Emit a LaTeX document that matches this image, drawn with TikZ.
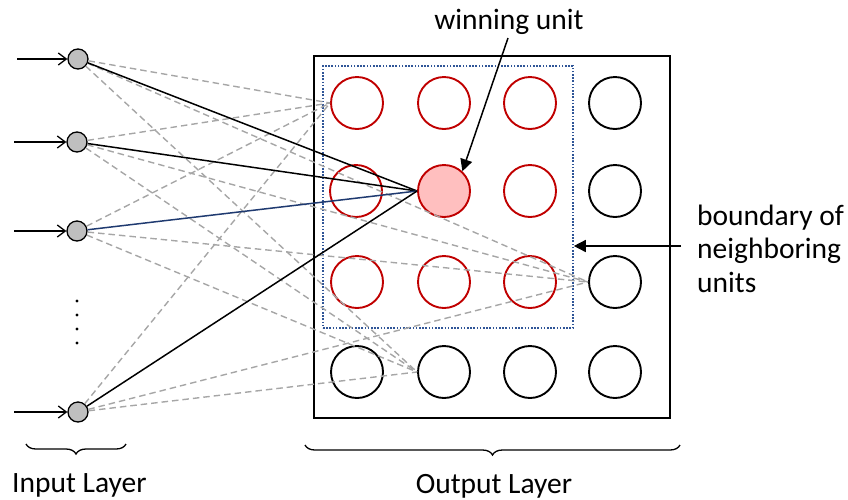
\documentclass[tikz,border=0pt]{standalone}
\usepackage{fontspec}
\setmainfont{Carlito}
\usetikzlibrary{arrows.meta,decorations.pathreplacing}
\definecolor{dred}{HTML}{C00000}
\definecolor{pinkfill}{HTML}{FFBFBF}
\definecolor{dgray}{HTML}{A6A6A6}
\definecolor{navy}{HTML}{1F3A70}
\definecolor{dotblue}{HTML}{2F5597}
\definecolor{nodegray}{HTML}{BFBFBF}
\tikzset{
  inp/.style={circle,draw=black,fill=nodegray,line width=1.3pt,minimum size=20pt,inner sep=0pt},
  ocirc/.style={circle,draw=black,line width=1.9pt,minimum size=52pt,inner sep=0pt},
  rcirc/.style={ocirc,draw=dred},
  wcirc/.style={ocirc,draw=dred,fill=pinkfill},
  dline/.style={draw=dgray,line width=1.4pt,dash pattern=on 6.5pt off 4pt},
  sline/.style={draw=black,line width=1.5pt},
  bline/.style={draw=navy,line width=1.5pt},
  inarrow/.style={draw=black,line width=1.3pt,-{Straight Barb[length=8pt,width=12pt,line width=1.3pt]}},
  callout/.style={draw=black,line width=1.5pt,-{Triangle[length=12pt,width=12pt]}},
  txt/.style={font=\fontsize{29.5}{33.5}\selectfont,inner sep=0pt},
  bracestyle/.style={draw=black,line width=1.3pt,decorate,decoration={brace,mirror,amplitude=10pt}}
}
\begin{document}
\begin{tikzpicture}[x=1pt,y=-1pt]
\useasboundingbox (0,0) rectangle (848,499);

% output layer box and neighbourhood box
\node (outbox) [draw=black,line width=2pt,minimum width=356pt,minimum height=362pt,inner sep=0pt] at (492,237) {};
\node (nb) [draw=dotblue,line width=1.6pt,dash pattern=on 1.6pt off 1.6pt,minimum width=250pt,minimum height=262pt,inner sep=0pt] at (448,197) {};

% output units
\node[rcirc] (o11) at (357,103) {};
\node[rcirc] (o12) at (444,103) {};
\node[rcirc] (o13) at (530,103) {};
\node[ocirc] (o14) at (615,103) {};
\node[rcirc] (o21) at (356,191) {};
\node[wcirc] (o22) at (444,191) {};
\node[rcirc] (o23) at (530,191) {};
\node[ocirc] (o24) at (615,191) {};
\node[rcirc] (o31) at (357,282) {};
\node[rcirc] (o32) at (444,282) {};
\node[rcirc] (o33) at (530,282) {};
\node[ocirc] (o34) at (615,282) {};
\node[ocirc] (o41) at (357,372) {};
\node[ocirc] (o42) at (444,372) {};
\node[ocirc] (o43) at (530,372) {};
\node[ocirc] (o44) at (615,372) {};

% input units
\node[inp] (i1) at (78,59) {};
\node[inp] (i2) at (77,142) {};
\node[inp] (i3) at (77,231) {};
\node[inp] (i4) at (78,412) {};

% input arrows
\coordinate (a1) at (17,59);
\coordinate (a2) at (14,142);
\coordinate (a3) at (14,231);
\coordinate (a4) at (14,412);
\draw[inarrow] (a1) -- (i1);
\draw[inarrow] (a2) -- (i2);
\draw[inarrow] (a3) -- (i3);
\draw[inarrow] (a4) -- (i4);

% dots
\foreach \yy in {301,315,329,343} \fill (77,\yy) circle (1.7pt);

% dashed connections
\foreach \i in {1,2,3,4} {
  \draw[dline] (i\i) -- (o11.west);
  \draw[dline] (i\i) -- (o34.west);
  \draw[dline] (i\i) -- (o42.west);
}

% solid connections to winning unit
\draw[sline] (i1) -- (o22.west);
\draw[sline] (i2) -- (o22.west);
\draw[bline] (i3) -- (o22.west);
\draw[sline] (i4) -- (o22.west);

% labels and callouts
\node[txt,anchor=base] (wu) at (509,29) {winning unit};
\coordinate (wa) at (508,38);
\draw[callout] (wa) -- (o22.47);

\node[txt,anchor=base west,align=left] (bt) at (697,292) {boundary of\\neighboring\\units};
\coordinate (ba) at (681,246);
\draw[callout] (ba) -- (nb.east |- ba);

% braces
\coordinate (b1l) at (26,444);
\coordinate (b1r) at (126,444);
\coordinate (b2l) at (305,445);
\coordinate (b2r) at (680,445);
\draw[bracestyle] (b1l) -- (b1r);
\draw[bracestyle] (b2l) -- (b2r);
\node[txt,anchor=base west] (il) at (12,492) {Input Layer};
\node[txt,anchor=base] (ol) at (494,493) {Output Layer};
\end{tikzpicture}
\end{document}
